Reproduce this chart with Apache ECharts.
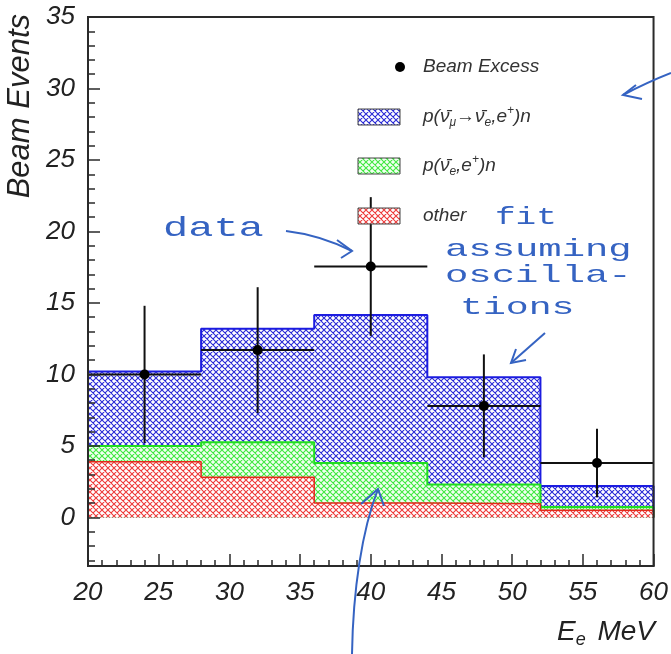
<!DOCTYPE html>
<html><head><meta charset="utf-8">
<script src="https://cdn.jsdelivr.net/npm/echarts@6/dist/echarts.min.js"></script>
<style>html,body{margin:0;padding:0;background:#fff}#c{width:671px;height:654px}</style>
</head><body><div id="c"></div>
<script>
// ---- data ----
const binEdges = [20, 28, 36, 44, 52, 60];
const otherVals = [3.9, 2.8, 1.0, 0.95, 0.5];          // red
const nueVals   = [1.1, 2.45, 2.8, 1.35, 0.22];        // green  p(nue,e+)n
const oscVals   = [5.2, 7.95, 10.35, 7.5, 1.48];       // blue   oscillation
const dataX     = [24, 32, 40, 48, 56];
const dataY     = [10.0, 11.7, 17.55, 7.8, 3.8];
const dataErrY  = [4.8, 4.4, 4.85, 3.6, 2.4];
const dataErrX  = [4, 4, 4, 4, 4];
const xTickLabels = [20, 25, 30, 35, 40, 45, 50, 55, 60];
const yTickLabels = [0, 5, 10, 15, 20, 25, 30, 35];
const yMinorTicks = [];
for (let v = -3; v <= 35; v++) yMinorTicks.push(v);

// stacked tops
const redTop = otherVals.slice();
const greenTop = otherVals.map((v, i) => v + nueVals[i]);
const blueTop = greenTop.map((v, i) => v + oscVals[i]);

function hatch(color, bg, size, lw) {
  const c = document.createElement('canvas');
  c.width = c.height = size;
  const g = c.getContext('2d');
  g.fillStyle = bg; g.fillRect(0, 0, size, size);
  g.strokeStyle = color; g.lineWidth = lw;
  g.beginPath();
  for (let k = -1; k <= 1; k++) {
    g.moveTo(k * size - 1, -1); g.lineTo(k * size + size + 1, size + 1);
  }
  for (let k = 0; k <= 2; k++) {
    g.moveTo(k * size + 1, -1); g.lineTo(k * size - size - 1, size + 1);
  }
  g.stroke();
  return c;
}
const patBlue = hatch('#2a2ad6', '#ffffff', 6, 1.1);
const patGreen = hatch('#3fe83f', '#f2fff2', 6, 1.1);
const patRed = hatch('#ee3a3a', '#ffffff', 6, 1.1);

function binData(tops) {
  return tops.map((t, i) => [binEdges[i], binEdges[i + 1], 0, t]);
}
function stepData(tops) {
  const d = [[binEdges[0], 0]];
  tops.forEach((t, i) => d.push([binEdges[i], t]));
  d.push([binEdges[binEdges.length - 1], tops[tops.length - 1]]);
  d.push([binEdges[binEdges.length - 1], 0]);
  return d;
}
function fillSeries(name, tops, pat, z) {
  return {
    type: 'custom', name, z, animation: false, clip: true,
    xAxisIndex: 0, yAxisIndex: 0,
    data: binData(tops),
    encode: { x: [0, 1], y: [2, 3] },
    renderItem: function (params, api) {
      const p0 = api.coord([api.value(0), api.value(3)]);
      const p1 = api.coord([api.value(1), api.value(2)]);
      return {
        type: 'rect',
        shape: { x: p0[0], y: p0[1], width: p1[0] - p0[0], height: p1[1] - p0[1] },
        style: { fill: { image: pat, repeat: 'repeat' }, stroke: null }
      };
    }
  };
}
function outlineSeries(name, tops, color, width, z) {
  return {
    type: 'line', name: name + ' outline', z, animation: false,
    xAxisIndex: 0, yAxisIndex: 0,
    step: 'end', symbol: 'none', showSymbol: false,
    lineStyle: { color, width },
    data: stepData(tops)
  };
}

const pointData = dataX.map((x, i) => [x, dataY[i], dataErrX[i], dataErrY[i]]);

const axisColor = '#2a2a2a';
const labelFont = { fontFamily: 'Liberation Sans, Arial, sans-serif', fontStyle: 'italic', color: '#222' };
const annoColor = '#3563c2';
const annoFont = 'Liberation Mono, monospace';
const legFont = 'italic 19px Liberation Sans, Arial, sans-serif';
const legSmall = 'italic 12px Liberation Sans, Arial, sans-serif';

const chart = echarts.init(document.getElementById('c'), null, { renderer: 'canvas' });
chart.setOption({
  animation: false,
  backgroundColor: '#ffffff',
  grid: { left: 88, right: 17, top: 17, bottom: 88, show: true, borderColor: axisColor, borderWidth: 2, z: 10, backgroundColor: 'transparent' },
  xAxis: {
    type: 'value', min: 20, max: 60, interval: 5, z: 10,
    axisLine: { show: true, onZero: false, lineStyle: { color: axisColor, width: 2 } },
    axisTick: { show: true, inside: true, length: 12, lineStyle: { color: axisColor, width: 1.5 } },
    minorTick: { show: true, splitNumber: 5, length: 6, lineStyle: { color: axisColor, width: 1.5 } },
    splitLine: { show: false }, minorSplitLine: { show: false },
    axisLabel: Object.assign({ fontSize: 26, margin: 14, showMinLabel: true, showMaxLabel: true,
      customValues: xTickLabels }, labelFont)
  },
  yAxis: [{
    type: 'value', min: -3.4, max: 35, z: 10, position: 'left', offset: 0,
    axisLine: { show: true, onZero: false, lineStyle: { color: axisColor, width: 2 } },
    axisTick: { show: true, inside: true, length: 12, customValues: yTickLabels, lineStyle: { color: axisColor, width: 1.5 } },
    splitLine: { show: false },
    axisLabel: Object.assign({ fontSize: 26, margin: 13, customValues: yTickLabels }, labelFont)
  }, {
    type: 'value', min: -3.4, max: 35, z: 10, position: 'left', offset: 0,
    axisLine: { show: false, onZero: false },
    axisTick: { show: true, inside: true, length: 7, customValues: yMinorTicks, lineStyle: { color: axisColor, width: 1.5 } },
    splitLine: { show: false },
    axisLabel: { show: false }
  }],
  series: [
    fillSeries('p(anti-numu -> anti-nue, e+)n', blueTop, patBlue, 2),
    outlineSeries('blue', blueTop, '#1c1ce0', 2, 3),
    fillSeries('p(anti-nue, e+)n', greenTop, patGreen, 4),
    outlineSeries('green', greenTop, '#20dd20', 2, 5),
    fillSeries('other', redTop, patRed, 6),
    outlineSeries('red', redTop, '#e22a1a', 1.5, 7),
    {
      type: 'custom', name: 'Beam Excess', z: 8, animation: false,
      xAxisIndex: 0, yAxisIndex: 0,
      data: pointData,
      encode: { x: 0, y: 1 },
      renderItem: function (params, api) {
        const x = api.value(0), y = api.value(1), ex = api.value(2), ey = api.value(3);
        const c = api.coord([x, y]);
        const l = api.coord([x - ex, y]), r = api.coord([x + ex, y]);
        const t = api.coord([x, y + ey]), b = api.coord([x, y - ey]);
        const ls = { stroke: '#111', lineWidth: 2 };
        return {
          type: 'group', children: [
            { type: 'line', shape: { x1: l[0], y1: l[1], x2: r[0], y2: r[1] }, style: ls },
            { type: 'line', shape: { x1: t[0], y1: t[1], x2: b[0], y2: b[1] }, style: ls },
            { type: 'circle', shape: { cx: c[0], cy: c[1], r: 5 }, style: { fill: '#000' } }
          ]
        };
      }
    }
  ],
  graphic: [
    // axis titles
    { type: 'text', x: 36, y: 14, rotation: Math.PI / 2, z: 20,
      style: { text: 'Beam Events', align: 'right', verticalAlign: 'bottom',
        font: 'italic 31px Liberation Sans, Arial, sans-serif', fill: '#222' } },
    { type: 'text', x: 655, y: 632, z: 20,
      style: { text: 'E{s|e} MeV', align: 'right', verticalAlign: 'middle',
        font: 'italic 28px Liberation Sans, Arial, sans-serif', fill: '#222',
        rich: { s: { font: 'italic 18px Liberation Sans, Arial, sans-serif', fill: '#222', padding: [16, 4, 0, 0] } } } },
    // legend
    { type: 'circle', shape: { cx: 400, cy: 67, r: 5 }, style: { fill: '#000' }, z: 20 },
    { type: 'text', x: 423, y: 67, z: 20,
      style: { text: 'Beam Excess', verticalAlign: 'middle', font: legFont, fill: '#333' } },
    { type: 'rect', shape: { x: 358, y: 109, width: 42, height: 16 }, z: 20,
      style: { fill: { image: patBlue, repeat: 'repeat' }, stroke: '#444', lineWidth: 1 } },
    { type: 'text', x: 423, y: 117, z: 20,
      style: { text: 'p(ν̄{s|μ}→ν̄{s|e},e{p|+})n', verticalAlign: 'middle', font: legFont, fill: '#333',
        rich: { s: { font: legSmall, fill: '#333', padding: [12, 0, 0, 0] },
                p: { font: legSmall, fill: '#333', padding: [0, 0, 12, 0] } } } },
    { type: 'rect', shape: { x: 358, y: 158, width: 42, height: 16 }, z: 20,
      style: { fill: { image: patGreen, repeat: 'repeat' }, stroke: '#444', lineWidth: 1 } },
    { type: 'text', x: 423, y: 166, z: 20,
      style: { text: 'p(ν̄{s|e},e{p|+})n', verticalAlign: 'middle', font: legFont, fill: '#333',
        rich: { s: { font: legSmall, fill: '#333', padding: [12, 0, 0, 0] },
                p: { font: legSmall, fill: '#333', padding: [0, 0, 12, 0] } } } },
    { type: 'rect', shape: { x: 358, y: 208, width: 42, height: 16 }, z: 20,
      style: { fill: { image: patRed, repeat: 'repeat' }, stroke: '#444', lineWidth: 1 } },
    { type: 'text', x: 423, y: 216, z: 20,
      style: { text: 'other', verticalAlign: 'middle', font: legFont, fill: '#333' } },
    // handwritten annotations
    { type: 'text', x: 163, y: 229, scaleX: 1.5, z: 30,
      style: { text: 'data', verticalAlign: 'middle', font: '28px ' + annoFont, fill: annoColor } },
    { type: 'text', x: 495, y: 218, scaleX: 1.43, z: 30,
      style: { text: 'fit', verticalAlign: 'middle', font: '24px ' + annoFont, fill: annoColor } },
    { type: 'text', x: 445, y: 250, scaleX: 1.62, z: 30,
      style: { text: 'assuming', verticalAlign: 'middle', font: '24px ' + annoFont, fill: annoColor } },
    { type: 'text', x: 445, y: 276, scaleX: 1.62, z: 30,
      style: { text: 'oscilla-', verticalAlign: 'middle', font: '24px ' + annoFont, fill: annoColor } },
    { type: 'text', x: 460, y: 308, scaleX: 1.59, z: 30,
      style: { text: 'tions', verticalAlign: 'middle', font: '24px ' + annoFont, fill: annoColor } },
    { type: 'bezierCurve', z: 30, shape: { x1: 286, y1: 231, cpx1: 320, cpy1: 235, x2: 352, y2: 251 },
      style: { stroke: annoColor, lineWidth: 2, fill: null } },
    { type: 'polyline', z: 30, shape: { points: [[337, 240], [352, 251], [341, 258]] },
      style: { stroke: annoColor, lineWidth: 2, fill: null } },
    { type: 'line', z: 30, shape: { x1: 545, y1: 333, x2: 511, y2: 363 },
      style: { stroke: annoColor, lineWidth: 2 } },
    { type: 'polyline', z: 30, shape: { points: [[516, 349], [511, 363], [526, 360]] },
      style: { stroke: annoColor, lineWidth: 2, fill: null } },
    { type: 'bezierCurve', z: 30, shape: { x1: 352, y1: 654, cpx1: 353, cpy1: 590, cpx2: 362, cpy2: 530, x2: 378, y2: 489 },
      style: { stroke: annoColor, lineWidth: 2, fill: null } },
    { type: 'polyline', z: 30, shape: { points: [[361, 504], [378, 489], [384, 506]] },
      style: { stroke: annoColor, lineWidth: 2, fill: null } },
    { type: 'bezierCurve', z: 30, shape: { x1: 671, y1: 73, cpx1: 648, cpy1: 82, x2: 623, y2: 95 },
      style: { stroke: annoColor, lineWidth: 2, fill: null } },
    { type: 'polyline', z: 30, shape: { points: [[636, 85], [623, 95], [642, 99]] },
      style: { stroke: annoColor, lineWidth: 2, fill: null } }
  ]
});
</script>
</body></html>
